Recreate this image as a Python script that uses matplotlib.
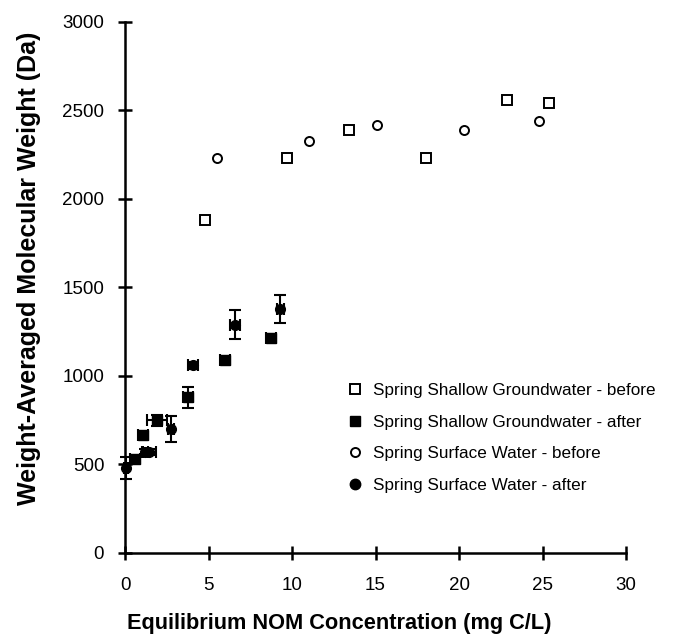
import matplotlib
matplotlib.use("Agg")
import matplotlib.pyplot as plt
from matplotlib.lines import Line2D

plt.rcParams['font.family'] = ['Liberation Sans', 'DejaVu Sans']

# Data
gw_before_x = [4.8, 9.7, 13.4, 18.0, 22.9, 25.4]
gw_before_y = [1880, 2230, 2390, 2230, 2560, 2540]

sw_before_x = [5.5, 11.0, 15.1, 20.3, 24.8]
sw_before_y = [2230, 2330, 2420, 2390, 2440]

gw_after_x = [0.6, 1.05, 1.9, 3.75, 6.0, 8.75]
gw_after_y = [530, 665, 750, 880, 1090, 1215]
gw_after_xerr = [0.3, 0.3, 0.6, 0.3, 0.3, 0.3]
gw_after_yerr = [20, 20, 30, 60, 20, 20]

sw_after_x = [0.05, 1.2, 1.45, 2.75, 4.05, 6.6, 9.3]
sw_after_y = [480, 570, 570, 700, 1060, 1290, 1380]
sw_after_xerr = [0.1, 0.2, 0.4, 0.2, 0.3, 0.3, 0.2]
sw_after_yerr = [60, 15, 15, 75, 20, 80, 80]

labels = ['Spring Shallow Groundwater - before',
          'Spring Shallow Groundwater - after',
          'Spring Surface Water - before',
          'Spring Surface Water - after']

xticks = [0, 5, 10, 15, 20, 25, 30]
yticks = [0, 500, 1000, 1500, 2000, 2500, 3000]

fig = plt.figure(figsize=(6.91, 6.34), dpi=100)
ax = fig.add_axes([0.181, 0.1278, 0.725, 0.8375])

ms = 6.5
ax.plot(gw_before_x, gw_before_y, linestyle='none', marker='s', ms=ms,
        mfc='white', mec='black', mew=1.4, clip_on=False)
ax.errorbar(gw_after_x, gw_after_y, xerr=gw_after_xerr, yerr=gw_after_yerr,
            fmt='s', ms=ms, mfc='black', mec='black', ecolor='black', elinewidth=1.5,
            capsize=4, capthick=1.5, clip_on=False)
ax.plot(sw_before_x, sw_before_y, linestyle='none', marker='o', ms=ms,
        mfc='white', mec='black', mew=1.4, clip_on=False)
ax.errorbar(sw_after_x, sw_after_y, xerr=sw_after_xerr, yerr=sw_after_yerr,
            fmt='o', ms=ms + 0.5, mfc='black', mec='black', ecolor='black', elinewidth=1.5,
            capsize=4, capthick=1.5, clip_on=False)

ax.set_xlim(0, 30)
ax.set_ylim(0, 3000)
ax.set_xticks(xticks)
ax.set_yticks(yticks)
for s in ['top', 'right']:
    ax.spines[s].set_visible(False)
for s in ['left', 'bottom']:
    ax.spines[s].set_linewidth(1.8)
ax.tick_params(direction='inout', length=10, width=1.8, labelsize=13.5)
ax.tick_params(axis='y', pad=10)
ax.tick_params(axis='x', pad=12)

ax.set_xlabel('Equilibrium NOM Concentration (mg C/L)', fontsize=15.7, fontweight='bold')
ax.xaxis.set_label_coords(0.427, -0.113)
ax.set_ylabel('Weight-Averaged Molecular Weight (Da)', fontsize=18, fontweight='bold')
ax.yaxis.set_label_coords(-0.168, 0.537)

h = [Line2D([], [], ls='none', marker='s', ms=6.5, mfc='white', mec='black', mew=1.4),
     Line2D([], [], ls='none', marker='s', ms=7.5, mfc='black', mec='black'),
     Line2D([], [], ls='none', marker='o', ms=6.5, mfc='white', mec='black', mew=1.4),
     Line2D([], [], ls='none', marker='o', ms=7.5, mfc='black', mec='black')]
leg = ax.legend(h, labels, loc='upper left', bbox_to_anchor=(0.436, 0.333), frameon=False,
                fontsize=12.3, handlelength=0.6, handletextpad=0.7, labelspacing=0.97,
                borderaxespad=0)

fig.savefig('out.png', dpi=100)
